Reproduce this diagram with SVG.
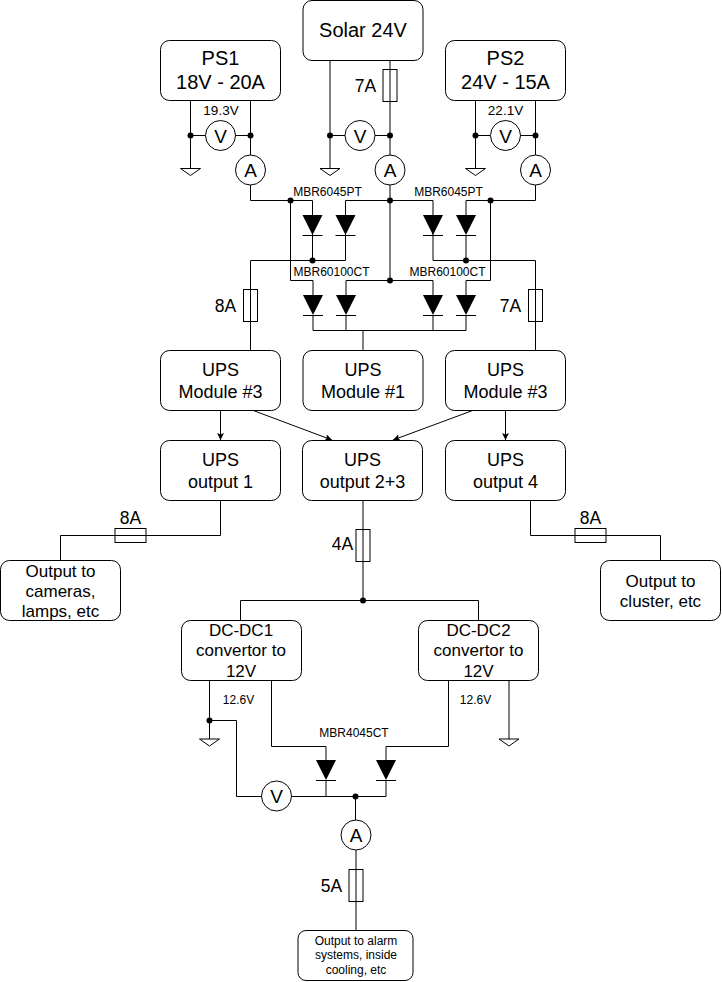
<svg xmlns="http://www.w3.org/2000/svg" width="722" height="982" viewBox="0 0 722 982">
<style>
text{font-family:"Liberation Sans",Arial,sans-serif;fill:#000;text-anchor:middle}
.box{fill:#fff;stroke:#000;stroke-width:1}
.w{fill:none;stroke:#000;stroke-width:1}
.f{fill:none;stroke:#000;stroke-width:1}
.m{fill:#fff;stroke:#000;stroke-width:1}
.t20{font-size:20px}.t19{font-size:19px}.t18{font-size:18px}.t17{font-size:17px}.t175{font-size:17.5px}.t135{font-size:13.5px}.t12{font-size:12px}
</style>
<defs>
<marker id="arr" markerWidth="8" markerHeight="8" refX="7" refY="3.500" orient="auto" markerUnits="userSpaceOnUse"><path d="M0 0L7 3.500L0 7L1.500 3.500Z" fill="#000"/></marker>
<g id="gnd"><path d="M-10 0H10L0 7Z" fill="#fff" stroke="#000"/></g>
<g id="d"><path d="M-10 0H10L0 20Z" fill="#000"/><path d="M-10 20.500H10" stroke="#000" fill="none"/></g>
<g id="dot"><circle r="3" fill="#000"/></g>
</defs>
<g id="connectors">
<path class="w" d="M190.500 100V168M250.500 100V155M190.500 135.500H205M235 135.500H250.500"/>
<path class="w" d="M330 60V168M390 60V155M330 135.500H345M375 135.500H390"/>
<path class="w" d="M475.500 100V168M535.500 100V155M475.500 135.500H490M520 135.500H535.500"/>
<path class="w" d="M250.500 185V200.500H312.500V260M345.500 215V260.500H250.500V350"/>
<path class="w" d="M345.500 215V200.500H433V260.500H535.500V350"/>
<path class="w" d="M466 215V200.500H535.500V185M466 235V260M390 185V280"/>
<path class="w" d="M290.500 200.500V280.500H313V295M346 295V280.500H433V295M466 295V280.500H490.500V200.500"/>
<path class="w" d="M313 315V330.500H466V315M346 315V330M433 315V330M363 330V350"/>
<path class="w" marker-end="url(#arr)" d="M220.500 410V440"/>
<path class="w" marker-end="url(#arr)" d="M252 410L332 440"/>
<path class="w" marker-end="url(#arr)" d="M474 410L393 440"/>
<path class="w" marker-end="url(#arr)" d="M505.500 410V440"/>
<path class="w" d="M220.500 500V535.500H60.500V560M530.500 500V535.500H660.500V560M363 500V600M240.500 620V600.500H478.500V620"/>
<path class="w" d="M209.500 680V739M209.500 720.500H236.500V796.500H262M292 796.500H386V780M326 780V796M271.500 680V746.500H326V760M448.500 680V746.500H386V760M509 680V739M355.500 796.500V820M356 850V930"/>
</g>
<g id="fuses">
<rect class="f" x="383" y="69.500" width="14" height="32"/>
<rect class="f" x="243.500" y="289.500" width="14" height="32"/>
<rect class="f" x="528.500" y="289.500" width="14" height="32"/>
<rect class="f" x="115" y="528.500" width="31" height="14"/>
<rect class="f" x="575" y="528.500" width="31" height="14"/>
<rect class="f" x="356" y="529.500" width="14" height="32"/>
<rect class="f" x="349" y="869.500" width="14" height="32"/>
</g>
<g id="grounds">
<use href="#gnd" x="190.500" y="168.500"/><use href="#gnd" x="330" y="168.500"/><use href="#gnd" x="475.500" y="168.500"/>
<use href="#gnd" x="209.500" y="739"/><use href="#gnd" x="509" y="739"/>
</g>
<g id="diodes">
<use href="#d" x="312.500" y="215"/><use href="#d" x="345.500" y="215"/><use href="#d" x="433" y="215"/><use href="#d" x="466" y="215"/>
<use href="#d" x="313" y="295"/><use href="#d" x="346" y="295"/><use href="#d" x="433" y="295"/><use href="#d" x="466" y="295"/>
<use href="#d" x="326" y="760"/><use href="#d" x="386" y="760"/>
</g>
<g id="dots">
<use href="#dot" x="190.500" y="135.500"/><use href="#dot" x="250.500" y="135.500"/><use href="#dot" x="330" y="135.500"/><use href="#dot" x="390" y="135.500"/><use href="#dot" x="475.500" y="135.500"/><use href="#dot" x="535.500" y="135.500"/>
<use href="#dot" x="290.500" y="200.500"/><use href="#dot" x="390" y="200.500"/><use href="#dot" x="490.500" y="200.500"/>
<use href="#dot" x="312.500" y="260.500"/><use href="#dot" x="466" y="260.500"/><use href="#dot" x="390" y="280.500"/>
<use href="#dot" x="363" y="600.500"/><use href="#dot" x="209.500" y="720.500"/><use href="#dot" x="355.500" y="796.500"/>
</g>
<g id="solar"><rect class="box" x="303" y="0.500" width="120" height="60" rx="9"/><text class="t20" x="363" y="37">Solar 24V</text></g>
<g id="ps1"><rect class="box" x="160.500" y="40.500" width="120" height="60" rx="9"/><text class="t20" x="220.500" y="65">PS1</text><text class="t20" x="220.500" y="89">18V - 20A</text></g>
<g id="ps2"><rect class="box" x="445.500" y="40.500" width="120" height="60" rx="9"/><text class="t20" x="505.500" y="65">PS2</text><text class="t20" x="505.500" y="89">24V - 15A</text></g>
<g id="m3l"><rect class="box" x="160.500" y="350.500" width="120" height="60" rx="9"/><text class="t18" x="220.500" y="376">UPS</text><text class="t18" x="220.500" y="398">Module #3</text></g>
<g id="m1"><rect class="box" x="303" y="350.500" width="120" height="60" rx="9"/><text class="t18" x="363" y="376">UPS</text><text class="t18" x="363" y="398">Module #1</text></g>
<g id="m3r"><rect class="box" x="445.500" y="350.500" width="120" height="60" rx="9"/><text class="t18" x="505.500" y="376">UPS</text><text class="t18" x="505.500" y="398">Module #3</text></g>
<g id="o1"><rect class="box" x="160.500" y="440.500" width="120" height="60" rx="9"/><text class="t18" x="220.500" y="466">UPS</text><text class="t18" x="220.500" y="488">output 1</text></g>
<g id="o23"><rect class="box" x="302.500" y="440.500" width="120" height="60" rx="9"/><text class="t18" x="362.500" y="466">UPS</text><text class="t18" x="362.500" y="488">output 2+3</text></g>
<g id="o4"><rect class="box" x="445.500" y="440.500" width="120" height="60" rx="9"/><text class="t18" x="505.500" y="466">UPS</text><text class="t18" x="505.500" y="488">output 4</text></g>
<g id="cam"><rect class="box" x="0.500" y="560.500" width="120" height="60" rx="9"/><text class="t17" x="60.500" y="577">Output to</text><text class="t17" x="60.500" y="597">cameras,</text><text class="t17" x="60.500" y="617">lamps, etc</text></g>
<g id="clu"><rect class="box" x="600.500" y="560.500" width="120" height="60" rx="9"/><text class="t17" x="660.500" y="587">Output to</text><text class="t17" x="660.500" y="607">cluster, etc</text></g>
<g id="dc1"><rect class="box" x="181.500" y="620.500" width="120" height="60" rx="9"/><text class="t17" x="241" y="636">DC-DC1</text><text class="t17" x="241" y="656">convertor to</text><text class="t17" x="241" y="677">12V</text></g>
<g id="dc2"><rect class="box" x="418.500" y="620.500" width="120" height="60" rx="9"/><text class="t17" x="478.500" y="636">DC-DC2</text><text class="t17" x="478.500" y="656">convertor to</text><text class="t17" x="478.500" y="677">12V</text></g>
<g id="alarm"><rect class="box" x="298" y="930.500" width="115" height="50" rx="8"/><text class="t12" x="356" y="945">Output to alarm</text><text class="t12" x="356" y="959">systems, inside</text><text class="t12" x="356" y="974">cooling, etc</text></g>
<g id="meters">
<g id="v1"><circle class="m" cx="220.500" cy="135.500" r="15"/><text class="t19" x="220.500" y="142.500">V</text></g>
<g id="v2"><circle class="m" cx="360" cy="135.500" r="15"/><text class="t19" x="360" y="142.500">V</text></g>
<g id="v3"><circle class="m" cx="505.500" cy="135.500" r="15"/><text class="t19" x="505.500" y="142.500">V</text></g>
<g id="a1"><circle class="m" cx="250.500" cy="170" r="15"/><text class="t19" x="250.500" y="177">A</text></g>
<g id="a2"><circle class="m" cx="390" cy="170" r="15"/><text class="t19" x="390" y="177">A</text></g>
<g id="a3"><circle class="m" cx="535.500" cy="170" r="15"/><text class="t19" x="535.500" y="177">A</text></g>
<g id="v4"><circle class="m" cx="276.500" cy="796" r="15"/><text class="t19" x="276.500" y="803">V</text></g>
<g id="a4"><circle class="m" cx="356" cy="835" r="15"/><text class="t19" x="356" y="842">A</text></g>
</g>
<g id="labels">
<text class="t135" x="221" y="115">19.3V</text><text class="t135" x="505.500" y="115">22.1V</text>
<text class="t175" x="365.500" y="92">7A</text>
<text class="t12" x="327.500" y="196">MBR6045PT</text><text class="t12" x="448.500" y="196">MBR6045PT</text>
<text class="t12" x="331.500" y="276">MBR60100CT</text><text class="t12" x="447.500" y="276">MBR60100CT</text>
<text class="t175" x="225.500" y="312">8A</text><text class="t175" x="510.500" y="312">7A</text>
<text class="t175" x="130.500" y="524">8A</text><text class="t175" x="590.500" y="524">8A</text>
<text class="t175" x="342.500" y="550">4A</text><text class="t175" x="331.500" y="892">5A</text>
<text class="t12" x="238.500" y="704">12.6V</text><text class="t12" x="475.500" y="704">12.6V</text>
<text class="t12" x="354" y="737">MBR4045CT</text>
</g>
</svg>
